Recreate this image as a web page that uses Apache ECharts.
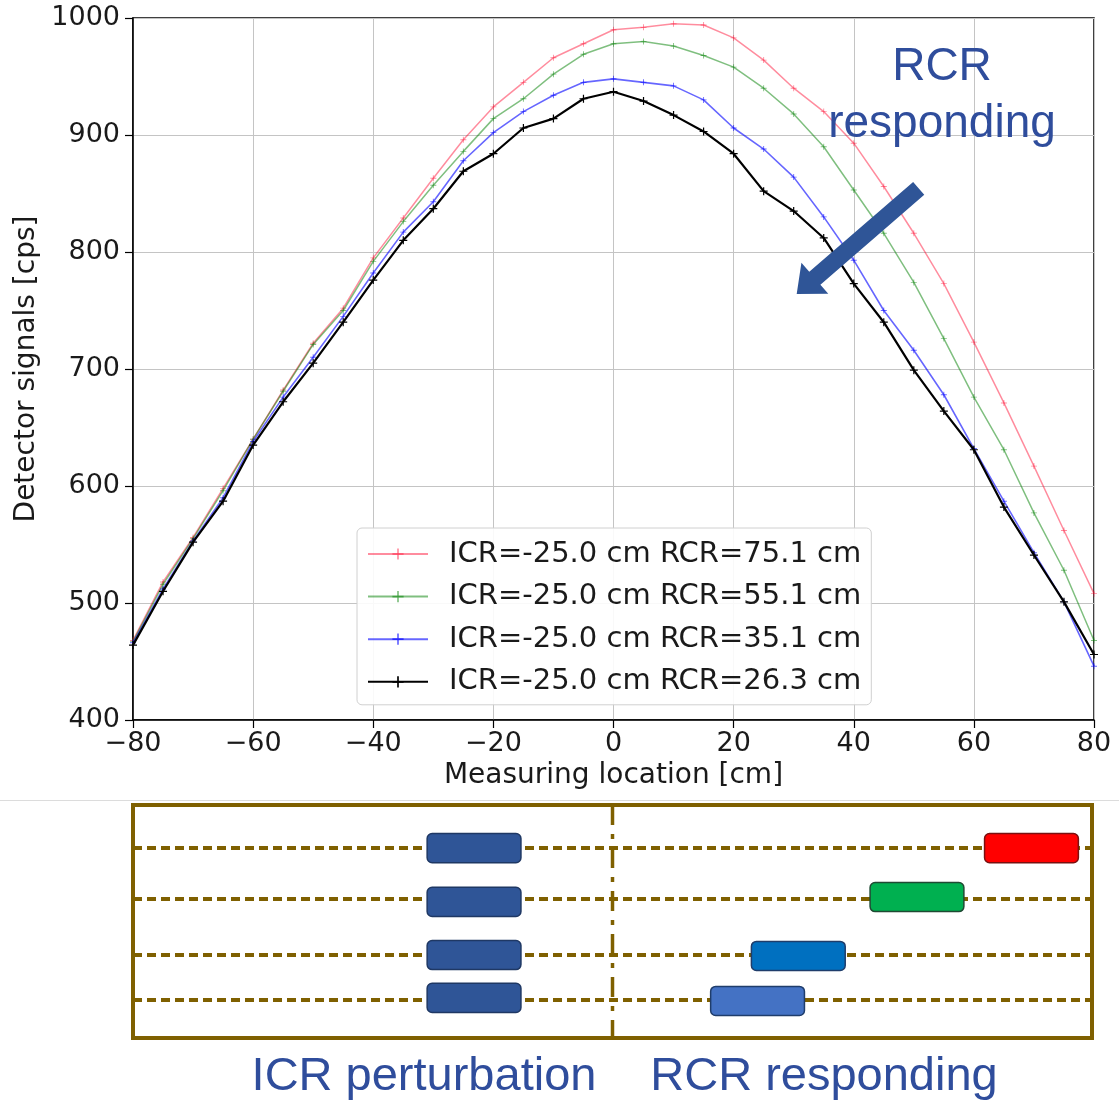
<!DOCTYPE html>
<html>
<head>
<meta charset="utf-8">
<script src="https://cdn.jsdelivr.net/npm/echarts@6/dist/echarts.min.js"></script>
<style>
html,body{margin:0;padding:0;background:#fff;}
#chart{width:1119px;height:1107px;}
</style>
</head>
<body>
<div id="chart"></div>
<script>
// ---------- data ----------
const xValues = [-80,-75,-70,-65,-60,-55,-50,-45,-40,-35,-30,-25,-20,-15,-10,-5,0,5,10,15,20,25,30,35,40,45,50,55,60,65,70,75,80];
const seriesNames = [
  'ICR=-25.0 cm RCR=75.1 cm',
  'ICR=-25.0 cm RCR=55.1 cm',
  'ICR=-25.0 cm RCR=35.1 cm',
  'ICR=-25.0 cm RCR=26.3 cm'
];
const rcr751 = [468,518,556,598,640,682,722,752,795,829,863,896,924,945,966,978,990,992,995,994,983,964,940,920,893,856,816,773,723,671,617,562,508];
const rcr551 = [467,516,555,596,640,681,721,750,792,826,857,886,914,931,952,969,978,980,976,968,958,940,918,890,853,816,774,726,676,631,577,528,468];
const rcr351 = [466,512,553,590,638,676,710,745,782,817,843,878,902,920,934,945,948,945,942,930,906,888,864,830,793,750,716,678,632,587,543,501,446];
const rcr263 = [464,510,552,587,635,672,705,740,776,810,837,869,884,906,914,931,937,929,917,903,884,852,835,812,773,740,699,664,631,582,541,501,456];
const xTicks = [-80,-60,-40,-20,0,20,40,60,80];
const yTicks = [400,500,600,700,800,900,1000];

// schematic (bottom panel): rod positions [cm] and row positions (% of panel height)
const diagramRows = [18.5, 40.3, 64.4, 83.7];
const icrRodX = [-23.1, -23.1, -23.1, -23.1];
const icrRodRow = [18.5, 41.6, 64.4, 82.8];
const rcrRodX = [69.9, 50.8, 31.0, 24.2];
const rcrRodRow = [18.5, 39.5, 64.8, 84.1];

// ---------- styles ----------
const lineColors = ['rgba(255,0,40,0.45)','rgba(0,128,0,0.5)','rgba(0,0,255,0.6)','#000000'];
const lineWidths = [1.5,1.5,1.6,2.2];
const rcrFill = ['#FF0000','#00B050','#0070C0','#4472C4'];
const rcrStroke = ['#7a1010','#1f4a33','#1f3d6b','#1f3d6b'];
const icrFill = '#2F5597';
const icrStroke = '#1F3864';
const brown = '#7F6000';
const annBlue = '#2F4D9C';
const plusPath = 'path://M-1.5,-10 H1.5 V-1.5 H10 V1.5 H1.5 V10 H-1.5 V1.5 H-10 V-1.5 H-1.5 Z';
const rodW = 15.65, rodH = 12.5;

const chart = echarts.init(document.getElementById('chart'), null, {renderer:'canvas'});
const fmt = v => v < 0 ? '\u2212' + Math.abs(v) : String(v);

const allVals = [rcr751, rcr551, rcr351, rcr263];
const lineSeries = allVals.map((vals, k) => ({
  name: seriesNames[k],
  type: 'line',
  xAxisIndex: 0, yAxisIndex: 0,
  data: xValues.map((x, i) => [x, vals[i]]),
  symbol: plusPath,
  symbolSize: k === 3 ? 8 : 6,
  showSymbol: true,
  lineStyle: {color: lineColors[k], width: lineWidths[k]},
  itemStyle: {color: lineColors[k]},
  emphasis: {disabled: true},
  animation: false,
  z: 3 + k
}));

const rowLines = diagramRows.map(r => ({
  type: 'line', xAxisIndex: 1, yAxisIndex: 1,
  data: [[-80, r], [80, r]],
  showSymbol: false, symbol: 'none',
  lineStyle: {color: brown, width: 4, type: [9, 5]},
  animation: false, silent: true, z: 2
}));

const centerLine = {
  type: 'line', xAxisIndex: 1, yAxisIndex: 1,
  data: [[0, 0], [0, 100]],
  showSymbol: false, symbol: 'none',
  lineStyle: {color: brown, width: 3.5, type: [20, 9, 5, 9]},
  animation: false, silent: true, z: 2
};

function rodRender(fills, strokes) {
  return function (params, api) {
    const c = api.coord([api.value(0), api.value(1)]);
    const s = api.size([rodW, rodH]);
    const i = params.dataIndex;
    return {
      type: 'rect',
      shape: {x: c[0] - s[0] / 2, y: c[1] - s[1] / 2, width: s[0], height: s[1], r: 5},
      style: {fill: Array.isArray(fills) ? fills[i] : fills, stroke: Array.isArray(strokes) ? strokes[i] : strokes, lineWidth: 1.5}
    };
  };
}
const icrRods = {
  type: 'custom', xAxisIndex: 1, yAxisIndex: 1,
  data: icrRodX.map((x, i) => [x, icrRodRow[i]]),
  renderItem: rodRender(icrFill, icrStroke), animation: false, silent: true, z: 5
};
const rcrRods = {
  type: 'custom', xAxisIndex: 1, yAxisIndex: 1,
  data: rcrRodX.map((x, i) => [x, rcrRodRow[i]]),
  renderItem: rodRender(rcrFill, rcrStroke), animation: false, silent: true, z: 5
};

// arrow polygon (annotation)
function arrowPoints(tail, tip, shaftHalf, headHalf, headLen) {
  const dx = tip[0] - tail[0], dy = tip[1] - tail[1];
  const L = Math.hypot(dx, dy), ux = dx / L, uy = dy / L, px = -uy, py = ux;
  const bx = tip[0] - ux * headLen, by = tip[1] - uy * headLen;
  return [
    [tail[0] + px * shaftHalf, tail[1] + py * shaftHalf],
    [bx + px * shaftHalf, by + py * shaftHalf],
    [bx + px * headHalf, by + py * headHalf],
    [tip[0], tip[1]],
    [bx - px * headHalf, by - py * headHalf],
    [bx - px * shaftHalf, by - py * shaftHalf],
    [tail[0] - px * shaftHalf, tail[1] - py * shaftHalf]
  ];
}

const font = 'DejaVu Sans';

chart.setOption({
  backgroundColor: '#fff',
  animation: false,
  textStyle: {fontFamily: font},
  grid: [
    {left: 133, right: 25, top: 18, bottom: 387, show: true, borderColor: '#000', borderWidth: 1.5, containLabel: false},
    {left: 133, right: 27, top: 805, bottom: 69, show: true, borderColor: brown, borderWidth: 4, containLabel: false}
  ],
  xAxis: [
    {
      type: 'value', gridIndex: 0, min: xTicks[0], max: xTicks[xTicks.length - 1], interval: xTicks[1] - xTicks[0],
      name: 'Measuring location [cm]', nameLocation: 'middle', nameGap: 42,
      nameTextStyle: {fontSize: 28, color: '#1a1a1a', fontFamily: font},
      axisLine: {onZero: false, lineStyle: {color: '#000', width: 1.5}},
      axisTick: {show: true, length: 8, inside: false, lineStyle: {color: '#000', width: 1.2}},
      axisLabel: {fontSize: 27, color: '#1a1a1a', margin: 10, formatter: fmt, fontFamily: font},
      splitLine: {show: true, lineStyle: {color: '#c4c4c4', width: 1}}
    },
    {type: 'value', gridIndex: 1, min: -80, max: 80, show: false}
  ],
  yAxis: [
    {
      type: 'value', gridIndex: 0, min: yTicks[0], max: yTicks[yTicks.length - 1], interval: yTicks[1] - yTicks[0],
      name: 'Detector signals [cps]', nameLocation: 'middle', nameGap: 91, nameRotate: 90,
      nameTextStyle: {fontSize: 28, color: '#1a1a1a', fontFamily: font},
      axisLine: {show: true, onZero: false, lineStyle: {color: '#000', width: 1.5}},
      axisTick: {show: true, length: 8, inside: false, lineStyle: {color: '#000', width: 1.2}},
      axisLabel: {fontSize: 27, color: '#1a1a1a', margin: 13, fontFamily: font, formatter: v => String(v)},
      splitLine: {show: true, lineStyle: {color: '#c4c4c4', width: 1}}
    },
    {type: 'value', gridIndex: 1, min: 0, max: 100, inverse: true, show: false}
  ],
  legend: {
    show: true, orient: 'vertical', left: 357, top: 528,
    data: seriesNames,
    itemWidth: 60, itemHeight: 14, itemGap: 12.6,
    padding: [11, 10, 8, 10],
    backgroundColor: 'rgba(255,255,255,0.9)',
    borderColor: '#d0d0d0', borderWidth: 1, borderRadius: 5,
    textStyle: {fontSize: 29, color: '#1a1a1a', fontFamily: font, lineHeight: 30, padding: [0, 0, 0, 16]},
    selectedMode: false
  },
  series: [...lineSeries, ...rowLines, centerLine, icrRods, rcrRods],
  graphic: [
    {type: 'line', shape: {x1: 0, y1: 800.5, x2: 1119, y2: 800.5}, style: {stroke: '#dcdcdc', lineWidth: 1}, z: 1},
    {type: 'polygon', shape: {points: arrowPoints([918.7, 188.3], [796.7, 294], 8.5, 20.5, 24)}, style: {fill: '#2F5597'}, z: 20},
    {type: 'text', x: 942, y: 67, style: {text: 'RCR', font: '46px "Liberation Sans"', fill: annBlue, textAlign: 'center', textVerticalAlign: 'middle'}, z: 20},
    {type: 'text', x: 942, y: 124, style: {text: 'responding', font: '46px "Liberation Sans"', fill: annBlue, textAlign: 'center', textVerticalAlign: 'middle'}, z: 20},
    {type: 'text', x: 424, y: 1077, style: {text: 'ICR perturbation', font: '47px "Liberation Sans"', fill: annBlue, textAlign: 'center', textVerticalAlign: 'middle'}, z: 20},
    {type: 'text', x: 824, y: 1077, style: {text: 'RCR responding', font: '47px "Liberation Sans"', fill: annBlue, textAlign: 'center', textVerticalAlign: 'middle'}, z: 20}
  ]
});
</script>
</body>
</html>
